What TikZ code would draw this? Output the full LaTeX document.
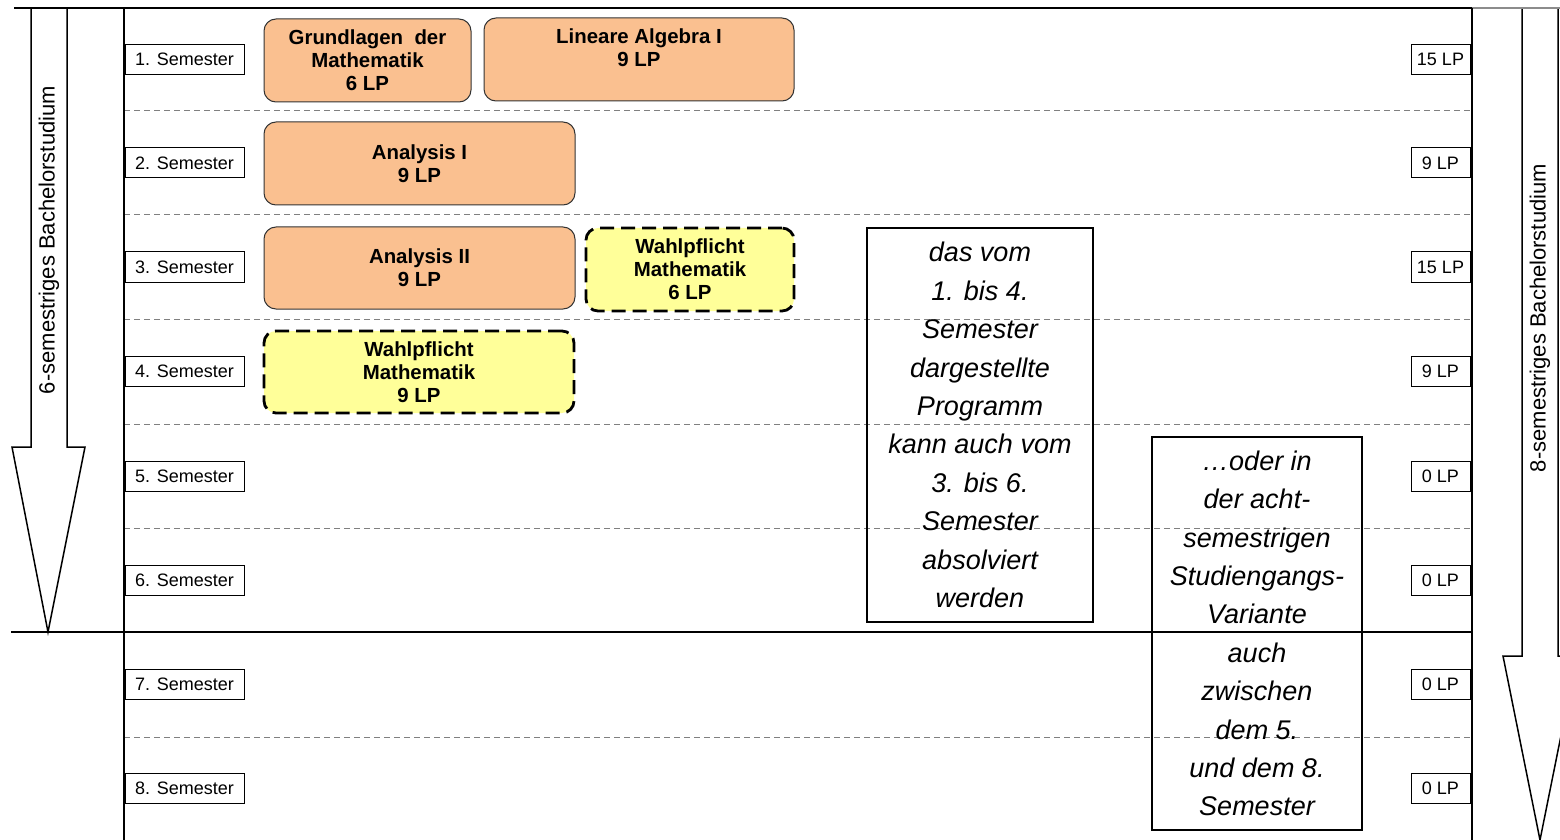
\documentclass[tikz,border=0pt]{standalone}
\usepackage{fontspec}
\setmainfont{Liberation Sans}
\definecolor{modulorange}{HTML}{FAC090}
\definecolor{wahlgelb}{HTML}{FFFF99}
\begin{document}
\begin{tikzpicture}[x=0.5pt,y=-0.5pt,
  sem/.style={draw, line width=0.5pt, inner sep=0pt, minimum width=59.5pt, minimum height=15pt, font=\fontsize{9}{10}\selectfont},
  lp/.style={draw, line width=0.5pt, inner sep=0pt, minimum width=29.5pt, minimum height=15pt, font=\fontsize{9}{10}\selectfont},
  modul/.style={draw=black!80, line width=0.5pt, fill=modulorange, rounded corners=6pt, inner sep=0pt, align=center, font=\bfseries\fontsize{10.2}{11.5}\selectfont},
  wahl/.style={draw, line width=1.4pt, dash pattern=on 7pt off 3.5pt, fill=wahlgelb, rounded corners=6pt, inner sep=0pt, align=center, font=\bfseries\fontsize{10.2}{11.5}\selectfont},
  hinweis/.style={draw, line width=0.6pt, inner sep=0pt, align=center, font=\itshape\fontsize{13.5}{19.2}\selectfont},
  raster/.style={draw=black!50, line width=0.5pt, dash pattern=on 3pt off 2pt},
  rahmen/.style={line width=0.75pt}]
  \useasboundingbox (0,0) rectangle (1560,840);

  %% arrows
  \draw[rahmen] (31,8) -- (31,447) -- (12,447) -- (48,632) -- (85,447) -- (67,447) -- (67,8);
  \draw[rahmen] (1522,8) -- (1522,656) -- (1503,656) -- (1540,840) -- (1577,656) -- (1558,656) -- (1558,8);
  \node[rotate=90, font=\fontsize{11}{12}\selectfont] (bach6) at (49,240) {6-semestriges Bachelorstudium};
  \node[rotate=90, font=\fontsize{11}{12}\selectfont] (bach8) at (1540,318) {8-semestriges Bachelorstudium};

  %% grid
  \draw[raster] (124,111) -- (1472,111);
  \draw[raster] (124,215) -- (1472,215);
  \draw[raster] (124,319) -- (1472,319);
  \draw[raster] (124,424) -- (1472,424);
  \draw[raster] (124,528) -- (1472,528);
  \draw[raster] (124,737) -- (1472,737);

  %% frame
  \draw[draw=black!45, line width=0.75pt] (1472,8) -- (1560,8);
  \draw[rahmen] (14,8) -- (1472,8);
  \draw[rahmen] (124,8) -- (124,840);
  \draw[rahmen] (1472,8) -- (1472,840);
  \draw[rahmen] (11,632) -- (1472,632);

  %% semesters
  \node[sem] (s1) at (184.5,59.5) {1. Semester};
  \node[sem] (s2) at (184.5,163) {2. Semester};
  \node[sem] (s3) at (184.5,267) {3. Semester};
  \node[sem] (s4) at (184.5,371.5) {4. Semester};
  \node[sem] (s5) at (184.5,476) {5. Semester};
  \node[sem] (s6) at (184.5,580) {6. Semester};
  \node[sem] (s7) at (184.5,684.5) {7. Semester};
  \node[sem] (s8) at (184.5,788.5) {8. Semester};

  %% credits
  \node[lp] (lp1) at (1440.5,59.5) {15 LP};
  \node[lp] (lp2) at (1440.5,163) {9 LP};
  \node[lp] (lp3) at (1440.5,267) {15 LP};
  \node[lp] (lp4) at (1440.5,371.5) {9 LP};
  \node[lp] (lp5) at (1440.5,476) {0 LP};
  \node[lp] (lp6) at (1440.5,580) {0 LP};
  \node[lp] (lp7) at (1440.5,684.5) {0 LP};
  \node[lp] (lp8) at (1440.5,788.5) {0 LP};

  %% modules
  \node[modul, minimum width=103.5pt, minimum height=41.5pt] (grundl) at (367.5,60.5) {Grundlagen\ \ der\\Mathematik\\6 LP};
  \node[modul, minimum width=155pt, minimum height=41.5pt] (linalg) at (639,59.5) {Lineare Algebra I\\9 LP\\\phantom{9 LP}};
  \node[modul, minimum width=155.5pt, minimum height=41.5pt] (ana1) at (419.5,163.5) {Analysis I\\9 LP};
  \node[modul, minimum width=155.5pt, minimum height=41pt] (ana2) at (419.5,268) {Analysis II\\9 LP};
  \node[wahl, minimum width=104pt, minimum height=41.5pt] (wp6) at (690,269.5) {Wahlpflicht\\Mathematik\\6 LP};
  \node[wahl, minimum width=155pt, minimum height=41pt] (wp9) at (419,372) {Wahlpflicht\\Mathematik\\9 LP};

  %% notes
  \node[hinweis, minimum width=113pt, minimum height=197pt] (hinweisA) at (980,425) {das vom\\1. bis 4.\\Semester\\dargestellte\\Programm\\kann auch vom\\3. bis 6.\\Semester\\absolviert\\werden};
  \node[hinweis, minimum width=105pt, minimum height=196.5pt] (hinweisB) at (1257,633.5) {…oder in\\der acht-\\semestrigen\\Studiengangs-\\Variante\\auch\\zwischen\\dem 5.\\und dem 8.\\Semester};

\end{tikzpicture}
\end{document}
